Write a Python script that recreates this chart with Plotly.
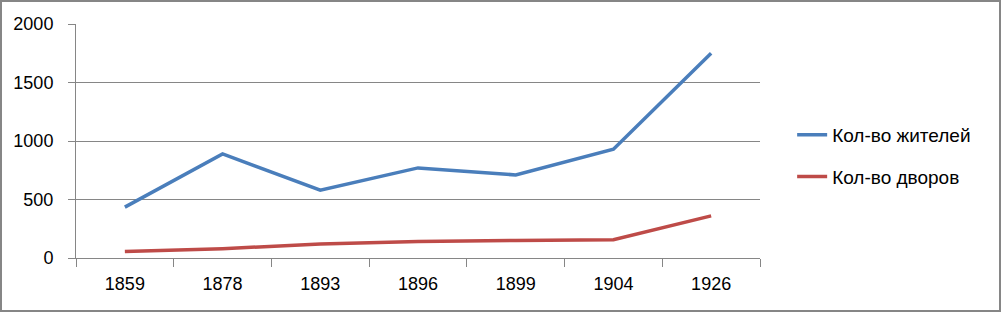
import plotly.graph_objects as go

years = ["1859", "1878", "1893", "1896", "1899", "1904", "1926"]
residents = [435, 890, 580, 770, 710, 930, 1750]
households = [55, 80, 120, 140, 150, 157, 360]
series_names = ["Кол-во жителей", "Кол-во дворов"]

W, H = 1001, 312
L, R, T, B = 76, 241, 24, 54
FONT = "Liberation Sans"
GRID = "#868686"

fig = go.Figure()
fig.add_trace(go.Scatter(x=years, y=residents, mode="lines", name=series_names[0],
                         line=dict(color="#4A7EBB", width=3.5), legendgroup="a"))
fig.add_trace(go.Scatter(x=years, y=households, mode="lines", name=series_names[1],
                         line=dict(color="#BE4B48", width=3.5), legendgroup="b"))

pw = W - L - R
ph = H - T - B
fig.add_shape(type="rect", xref="paper", yref="paper",
              x0=(-L + 1) / pw, x1=(W - L - 1) / pw,
              y0=(-B + 1) / ph, y1=(H - B - 1) / ph,
              line=dict(color="#868686", width=2), layer="below")

fig.update_layout(
    width=W, height=H,
    margin=dict(l=L, r=R, t=T, b=B, pad=0),
    paper_bgcolor="white", plot_bgcolor="white",
    font=dict(family=FONT, size=18, color="black"),
    showlegend=True,
    legend=dict(x=1.047, y=0.436, xanchor="left", yanchor="middle",
                tracegroupgap=14, font=dict(size=19, family=FONT),
                bgcolor="rgba(0,0,0,0)"),
    xaxis=dict(type="category", range=[-0.5, 6.5], showgrid=False, showline=True,
               linecolor=GRID, linewidth=1,
               ticks="outside", tickson="boundaries", ticklen=8, tickcolor=GRID,
               ticklabelstandoff=9, zeroline=False),
    yaxis=dict(range=[0, 2000], tickvals=[0, 500, 1000, 1500, 2000], showgrid=True,
               gridcolor=GRID, gridwidth=1, showline=True, linecolor=GRID, linewidth=1,
               ticks="outside", ticklen=7, tickcolor=GRID, ticklabelstandoff=11,
               zeroline=False),
)

fig.write_html("out.html")
